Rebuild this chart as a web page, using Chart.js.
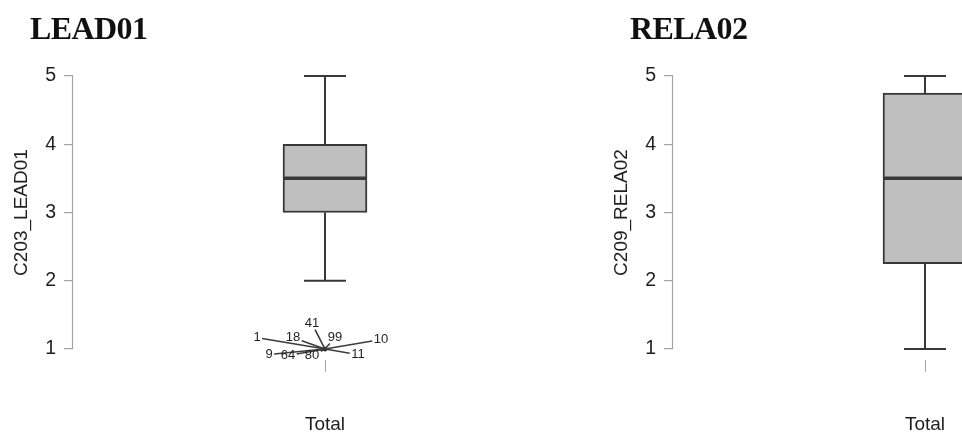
<!DOCTYPE html>
<html><head><meta charset="utf-8">
<script src="https://cdn.jsdelivr.net/npm/chart.js@4.4.1/dist/chart.umd.min.js"></script>
<style>
html,body{margin:0;padding:0;background:#fff;}
body{width:962px;height:435px;overflow:hidden;position:relative;}
.panel{position:absolute;top:0;width:600px;height:435px;}
.panel canvas{position:absolute;left:0;top:0;}
.ptitle{position:absolute;left:30px;top:12px;font-family:"Liberation Serif",serif;font-weight:bold;font-size:32px;line-height:1;letter-spacing:-0.6px;color:#111;white-space:nowrap;z-index:2;}
</style></head><body>
<div class="panel" style="left:0"><div class="ptitle" id="t1"></div><canvas id="c1" width="600" height="435"></canvas></div>
<div class="panel" style="left:600px"><div class="ptitle" id="t2"></div><canvas id="c2" width="600" height="435"></canvas></div>
<script>
// ---- data ----
const categories = ['Total'];
const yTicks = [1, 2, 3, 4, 5];
const panelTitles = ['LEAD01', 'RELA02'];
const yAxisTitles = ['C203_LEAD01', 'C209_RELA02'];

const lead01Min = [2];
const lead01Q1 = [3];
const lead01Median = [3.5];
const lead01Q3 = [4];
const lead01Max = [5];
const lead01Outliers = [1];
const lead01OutlierIds = ['1', '18', '41', '99', '10', '9', '64', '80', '11'];

const rela02Min = [1];
const rela02Q1 = [2.25];
const rela02Median = [3.5];
const rela02Q3 = [4.75];
const rela02Max = [5];
const rela02Outliers = [];
const rela02OutlierIds = [];

// ---- layout of outlier id labels (pixel offsets from the point) ----
const lead01LabelOffsets = [[-68,-11.5],[-32,-11.5],[-13,-25.5],[10,-11.5],[56,-9.5],[-56,5.5],[-37,6.5],[-13,6.5],[33,5.5]];

const FONT = '"Liberation Sans", Arial, sans-serif';
const TEXT = '#1f1f1f';
const AXIS = '#a3a3a3';
const DARK = '#383838';

const boxPlugin = {
  id: 'boxWhiskers',
  afterDatasetsDraw(chart, args, o) {
    const {ctx, scales: {x, y}, chartArea} = chart;
    const line = (x1, y1, x2, y2) => { ctx.beginPath(); ctx.moveTo(x1, y1); ctx.lineTo(x2, y2); ctx.stroke(); };
    ctx.save();
    // y axis line from first to last tick
    ctx.strokeStyle = AXIS; ctx.lineWidth = 1.2;
    const ax = Math.round(chartArea.left) - 0.5;
    line(ax, y.getPixelForValue(yTicks[0]), ax, y.getPixelForValue(yTicks[yTicks.length - 1]));
    // whiskers + median
    categories.forEach((c, i) => {
      const cx = x.getPixelForValue(i);
      const pMin = y.getPixelForValue(o.min[i]), pQ1 = y.getPixelForValue(o.q1[i]);
      const pMed = y.getPixelForValue(o.median[i]), pQ3 = y.getPixelForValue(o.q3[i]);
      const pMax = y.getPixelForValue(o.max[i]);
      ctx.strokeStyle = DARK; ctx.lineWidth = 2;
      line(cx, pQ3, cx, pMax);
      line(cx, pQ1, cx, pMin);
      line(cx - 21, pMax, cx + 21, pMax);
      line(cx - 21, pMin, cx + 21, pMin);
      ctx.lineWidth = 3.5;
      line(cx - 41, pMed, cx + 41, pMed);
    });
    // outlier id labels
    const meta = chart.getDatasetMeta(1);
    if (meta && meta.data.length && o.ids.length) {
      const pt = meta.data[0];
      ctx.font = '13px ' + FONT;
      ctx.textAlign = 'center'; ctx.textBaseline = 'middle';
      o.ids.forEach((id, k) => {
        const [dx, dy] = o.offsets[k];
        const w = ctx.measureText(id).width;
        const hw = w / 2 + 1.5, hh = 6;
        const s = Math.min(dx !== 0 ? hw / Math.abs(dx) : Infinity, dy !== 0 ? hh / Math.abs(dy) : Infinity);
        if (s < 1) {
          ctx.strokeStyle = '#3c3c3c'; ctx.lineWidth = 1.6;
          line(pt.x, pt.y, pt.x + dx * (1 - s), pt.y + dy * (1 - s));
        }
      });
      o.ids.forEach((id, k) => {
        const [dx, dy] = o.offsets[k];
        ctx.fillStyle = TEXT;
        ctx.fillText(id, pt.x + dx, pt.y + dy);
      });
    }
    ctx.restore();
  }
};

function makeChart(id, yTitle, mn, q1, med, q3, mx, outliers, ids, offsets) {
  return new Chart(document.getElementById(id), {
    type: 'bar',
    data: {
      labels: categories,
      datasets: [
        {
          type: 'bar',
          data: categories.map((c, i) => [q1[i], q3[i]]),
          backgroundColor: '#bfbfbf',
          borderColor: DARK,
          borderWidth: 2,
          borderSkipped: false,
          barThickness: 84
        },
        {
          type: 'line',
          data: outliers,
          showLine: false,
          pointRadius: 2.4,
          pointBackgroundColor: '#1a1a1a',
          pointBorderColor: '#1a1a1a',
          pointBorderWidth: 0
        }
      ]
    },
    options: {
      responsive: false,
      animation: false,
      devicePixelRatio: 1,
      layout: {padding: {left: 0, right: 23, top: 65, bottom: 0}},
      plugins: {
        legend: {display: false},
        tooltip: {enabled: false},
        boxWhiskers: {min: mn, q1: q1, median: med, q3: q3, max: mx, ids: ids, offsets: offsets}
      },
      scales: {
        x: {
          type: 'category',
          offset: true,
          grid: {display: true, drawOnChartArea: false, drawTicks: true, tickLength: 12, offset: false, color: AXIS},
          border: {display: false},
          ticks: {font: {family: FONT, size: 19}, color: TEXT, padding: 41},
          afterFit(s) { s.height = 75; }
        },
        y: {
          type: 'linear',
          min: 0.84,
          max: 5.16,
          afterBuildTicks(s) { s.ticks = yTicks.map(v => ({value: v})); },
          grid: {display: true, drawOnChartArea: false, drawTicks: true, tickLength: 9, color: AXIS, lineWidth: 1.2},
          border: {display: false},
          ticks: {font: {family: FONT, size: 19.5}, color: TEXT, padding: 8},
          title: {display: true, text: yTitle, font: {family: FONT, size: 19}, color: TEXT, padding: {top: 10, bottom: 0}},
          afterFit(s) { s.width = 73; }
        }
      }
    },
    plugins: [boxPlugin]
  });
}

document.getElementById('t1').textContent = panelTitles[0];
document.getElementById('t2').textContent = panelTitles[1];
makeChart('c1', yAxisTitles[0], lead01Min, lead01Q1, lead01Median, lead01Q3, lead01Max, lead01Outliers, lead01OutlierIds, lead01LabelOffsets);
makeChart('c2', yAxisTitles[1], rela02Min, rela02Q1, rela02Median, rela02Q3, rela02Max, rela02Outliers, rela02OutlierIds, []);
</script>
</body></html>
